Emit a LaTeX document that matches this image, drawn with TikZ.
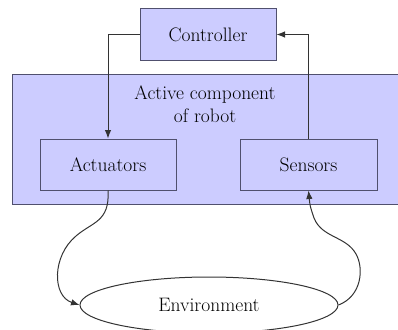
\documentclass[tikz,border=0pt]{standalone}
\usetikzlibrary{arrows.meta}
\usetikzlibrary{shapes.geometric}
\usetikzlibrary{positioning}
\tikzset{>={Latex[length=8.5pt,width=6.5pt]}}
\definecolor{boxfill}{RGB}{204,204,255}
\definecolor{boxline}{RGB}{80,80,110}
\tikzset{
  blockbox/.style={draw=boxline, fill=boxfill, line width=1pt, minimum width=136pt, minimum height=51pt, inner sep=0pt},
  link/.style={draw=black!80, line width=1pt, ->},
}

\begin{document}
\begin{tikzpicture}[x=1pt,y=1pt,yscale=-1,font=\fontsize{19.5}{23}\selectfont]
\useasboundingbox (0,0) rectangle (398,329);

%Shape: Rectangle [robot body, runs off the right edge]
\fill [boxfill] (12,74) rectangle (420,204);
\draw [draw=boxline, line width=1pt] (420,74) -- (12,74) -- (12,204) -- (420,204);
\node [align=center] (robotlbl) at (205,104) {Active component\\of robot};

%Blocks
\node [blockbox] (ctrl) at (208,34.5) {Controller};
\node [blockbox] (act) at (108,164.5) {Actuators};
\node [blockbox, minimum width=137pt] (sens) at (308.5,164.5) {Sensors};

%Ellipse
\node [draw=black!80, line width=1pt, fill=white, ellipse, minimum width=258pt, minimum height=56pt] (env) at (209,305) {Environment};

%Straight Lines
\draw [link] (ctrl.west) -| (act.north);
\draw [link] (sens.north) |- (ctrl.east);
%Curve Lines
\draw [link] (act.south) .. controls (110,222) and (92,222) .. (76,236) .. controls (52,256) and (52,296) .. (env.west);
\draw [link] (env.east) .. controls (362,296) and (364,268) .. (356,254) .. controls (346,236) and (322,238) .. (314,218) .. controls (310,206) .. (sens.south);
\end{tikzpicture}
\end{document}
